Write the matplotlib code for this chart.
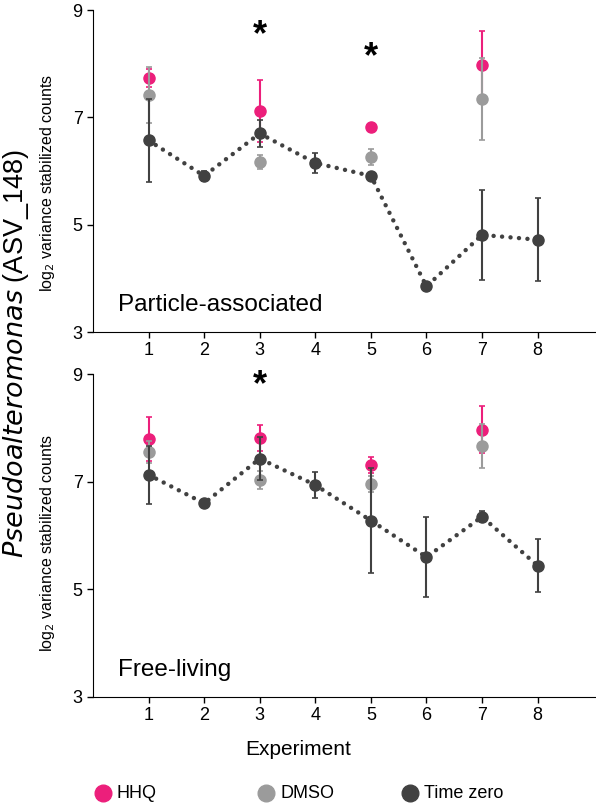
import numpy as np
import matplotlib
matplotlib.use("Agg")
import matplotlib.pyplot as plt

plt.rcParams['font.family'] = ['Liberation Sans', 'DejaVu Sans']

experiments = [1, 2, 3, 4, 5, 6, 7, 8]
hhq_x = [1, 3, 5, 7]
dmso_x = [1, 3, 5, 7]

# Particle-associated
pa_hhq = [7.74, 7.12, 6.83, 7.97]
pa_hhq_err = [0.17, 0.57, 0.05, 0.64]
pa_dmso = [7.42, 6.16, 6.27, 7.34]
pa_dmso_err = [0.52, 0.13, 0.15, 0.76]
pa_t0 = [6.57, 5.91, 6.70, 6.15, 5.91, 3.85, 4.81, 4.72]
pa_t0_err = [0.77, 0.09, 0.25, 0.18, 0.04, 0.03, 0.84, 0.77]
pa_stars = [3, 5]
pa_star_y = [8.53, 8.12]

# Free-living
fl_hhq = [7.79, 7.81, 7.32, 7.97]
fl_hhq_err = [0.41, 0.24, 0.15, 0.44]
fl_dmso = [7.55, 7.03, 6.96, 7.66]
fl_dmso_err = [0.2, 0.17, 0.15, 0.41]
fl_t0 = [7.13, 6.60, 7.43, 6.94, 6.28, 5.60, 6.35, 5.44]
fl_t0_err = [0.54, 0.05, 0.4, 0.24, 0.98, 0.75, 0.1, 0.49]
fl_stars = [3]
fl_star_y = [8.79]

c_hhq = '#EC1F7B'
c_dmso = '#9B9B9B'
c_t0 = '#414141'

fig = plt.figure(figsize=(5.96, 8.11), dpi=100)
ax1 = fig.add_axes([0.156, 0.5906, 0.844, 0.397])
ax2 = fig.add_axes([0.156, 0.1406, 0.844, 0.398])


def panel(ax, hhq, hhq_err, dmso, dmso_err, t0, t0_err, stars, star_y, label):
    ax.plot(experiments, t0, linestyle=(0, (0.01, 1.9)), color=c_t0, lw=3.2,
            dash_capstyle='round', zorder=1)
    ax.errorbar(hhq_x, hhq, yerr=hhq_err, fmt='o', color=c_hhq, ms=8,
                elinewidth=1.5, capsize=2, capthick=1.2, zorder=2)
    ax.errorbar(dmso_x, dmso, yerr=dmso_err, fmt='o', color=c_dmso, ms=8,
                elinewidth=1.5, capsize=2, capthick=1.2, zorder=3)
    ax.errorbar(experiments, t0, yerr=t0_err, fmt='o', color=c_t0, ms=8,
                elinewidth=1.5, capsize=2, capthick=1.2, zorder=4)
    for sx, sy in zip(stars, star_y):
        ax.text(sx, sy, '*', ha='center', va='center', fontsize=26,
                fontweight='bold')
    ax.set_xlim(0, 9.05)
    ax.set_ylim(3, 9)
    ax.set_yticks([3, 5, 7, 9])
    ax.set_xticks(experiments)
    ax.spines['top'].set_visible(False)
    ax.spines['right'].set_visible(False)
    ax.tick_params(labelsize=13, length=4, width=1)
    ax.tick_params(axis='x', pad=3)
    ax.text(0.45, 3.5, label, fontsize=17.5, ha='left', va='center')


panel(ax1, pa_hhq, pa_hhq_err, pa_dmso, pa_dmso_err, pa_t0, pa_t0_err,
      pa_stars, pa_star_y, 'Particle-associated')
panel(ax2, fl_hhq, fl_hhq_err, fl_dmso, fl_dmso_err, fl_t0, fl_t0_err,
      fl_stars, fl_star_y, 'Free-living')

# y labels
ylab = r'log$_2$ variance stabilized counts'
fig.text(0.0805, 0.774, ylab, fontsize=11.5, rotation=90, ha='center', va='center')
fig.text(0.0805, 0.330, ylab, fontsize=11.5, rotation=90, ha='center', va='center')

fig.text(0.5, 0.076, 'Experiment', fontsize=15, ha='center', va='center')
fig.text(0.027, 0.5635, r'$\it{Pseudoalteromonas}$ (ASV_148)', fontsize=19.5,
         rotation=90, ha='center', va='center')

# legend
lax = fig.add_axes([0, 0, 1, 0.05])
lax.set_xlim(0, 596)
lax.set_ylim(0, 40.55)
lax.axis('off')
for mx, txt, col in [(103, 'HHQ', c_hhq), (266, 'DMSO', c_dmso),
                     (410, 'Time zero', c_t0)]:
    lax.plot([mx], [18], 'o', color=col, ms=12)
    lax.text(mx + 14, 18, txt, fontsize=13, va='center', ha='left')

fig.savefig('out.png', dpi=100)
